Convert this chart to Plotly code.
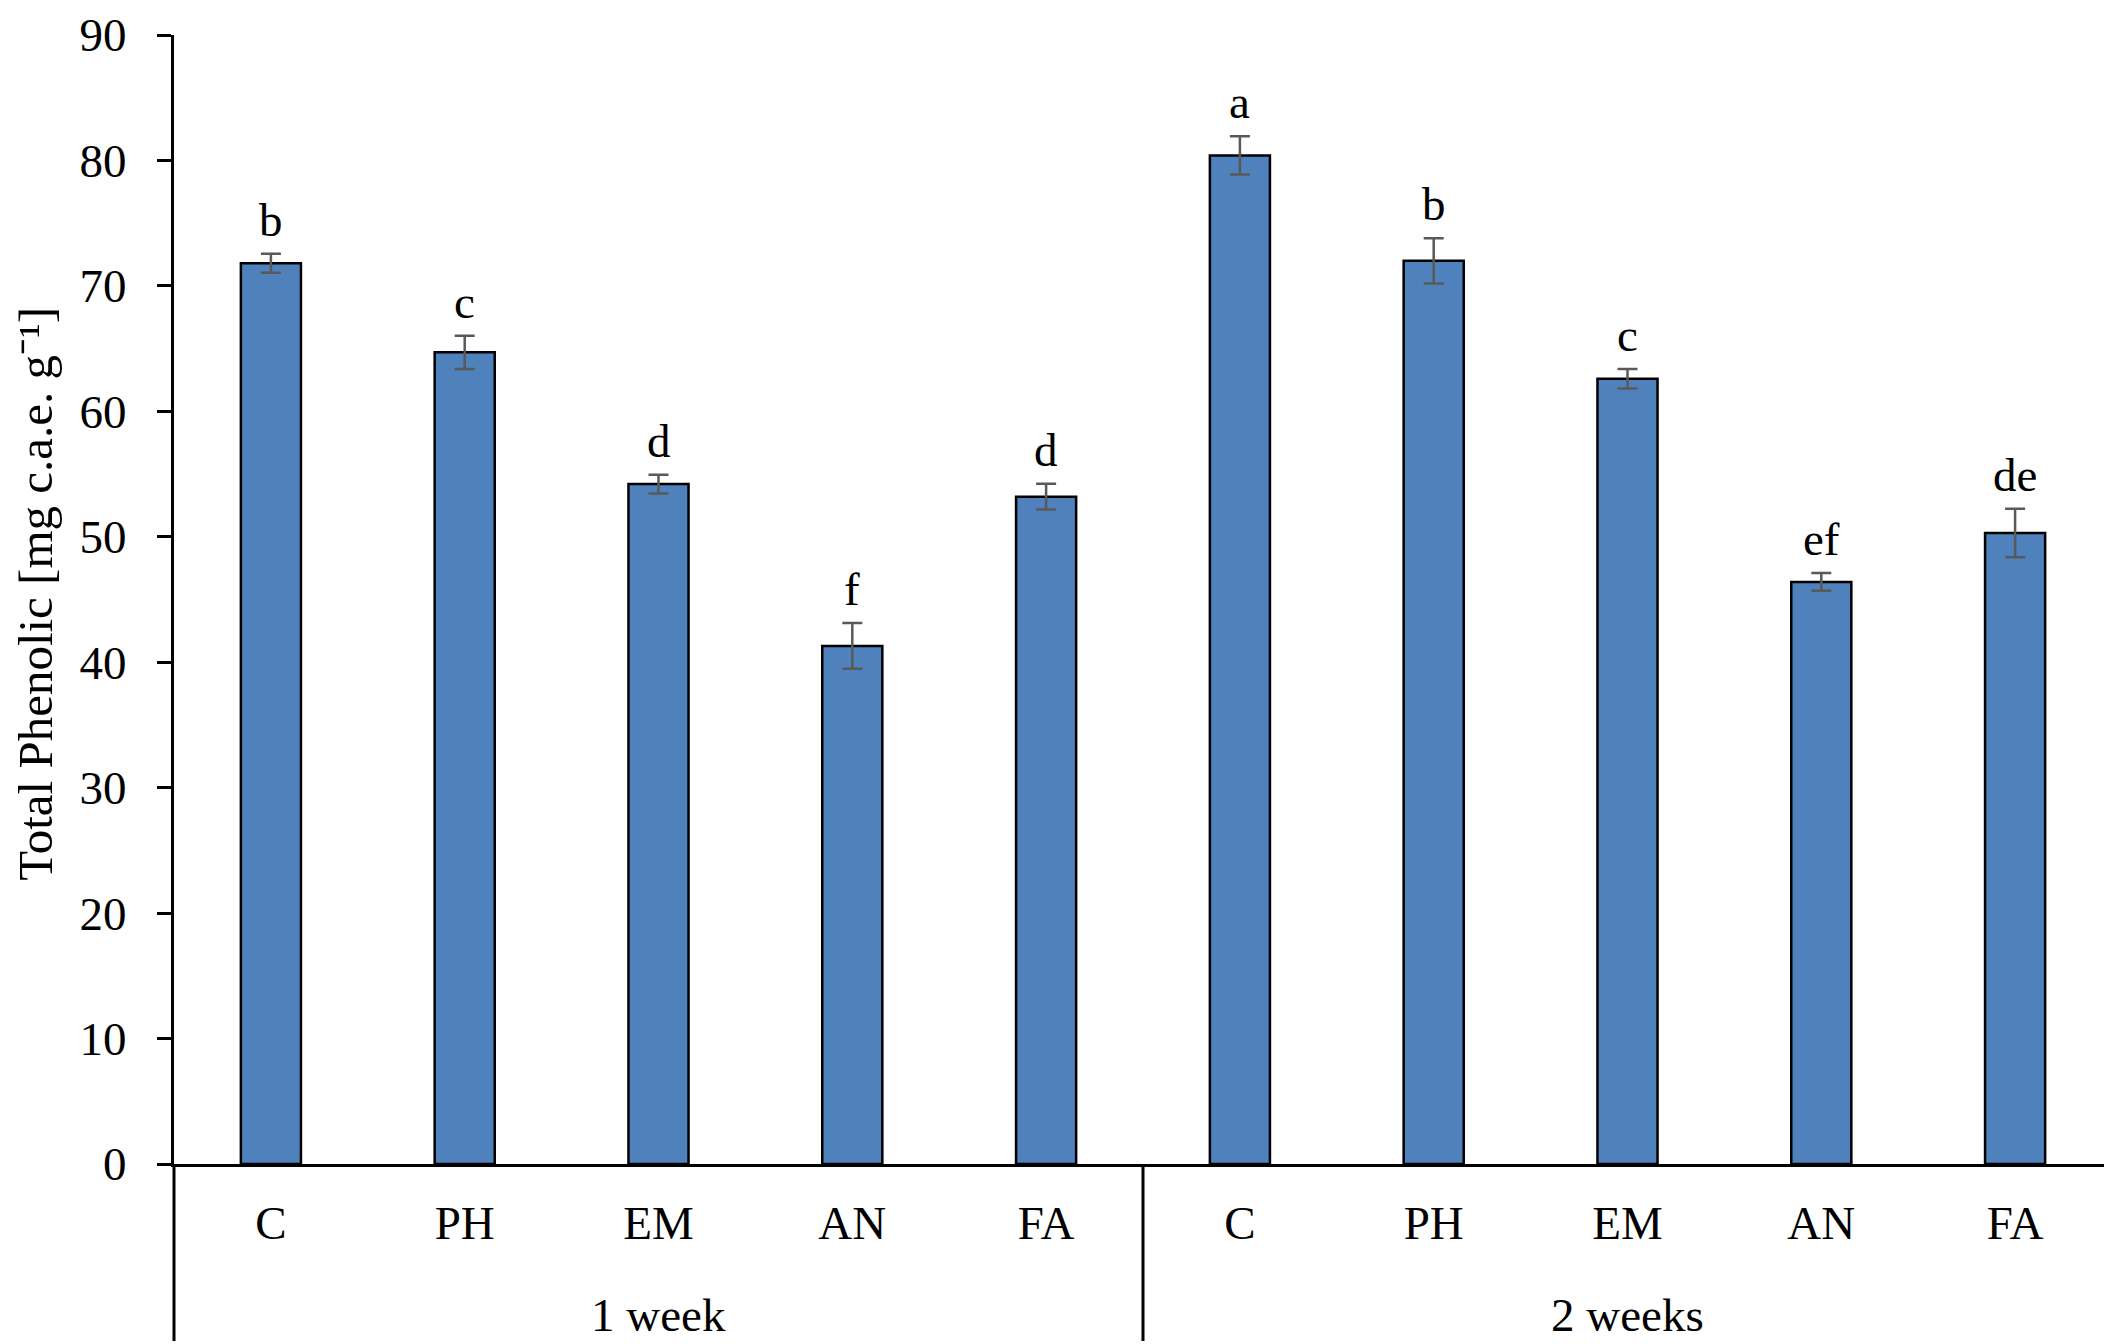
import plotly.graph_objects as go

# treatments and storage periods
treatments = ["C", "PH", "EM", "AN", "FA"]
weeks = ["1 week", "2 weeks"]

# total phenolic content, mg c.a.e. g-1
values_1wk = [71.8, 64.7, 54.2, 41.3, 53.2]
values_2wk = [80.4, 72.0, 62.6, 46.4, 50.3]

# standard deviations
sd_1wk = [0.76, 1.33, 0.75, 1.83, 1.02]
sd_2wk = [1.52, 1.80, 0.78, 0.71, 1.94]

# significance letters
letters_1wk = ["b", "c", "d", "f", "d"]
letters_2wk = ["a", "b", "c", "ef", "de"]

FONT = "Liberation Serif, Times New Roman, serif"
FS = 47
W, H = 2112, 1344
M_L, M_R, M_T, M_B = 166, 8, 27, 188
plot_w = W - M_L - M_R
plot_h = H - M_T - M_B

keys = [f"{w} {t}" for w in weeks for t in treatments]
values = values_1wk + values_2wk
sds = sd_1wk + sd_2wk
letters = letters_1wk + letters_2wk

fig = go.Figure()
fig.add_trace(go.Bar(
    x=keys,
    y=values,
    width=0.31,
    marker=dict(color="#4F81BD", line=dict(color="black", width=2.5)),
    error_y=dict(type="data", array=sds, visible=True,
                 color="#595959", thickness=2.5, width=10),
    showlegend=False,
))

# letters above the error bars
annotations = []
for k, v, s, lt in zip(keys, values, sds, letters):
    annotations.append(dict(
        x=k, y=v + s, xref="x", yref="y", text=lt, showarrow=False,
        yanchor="bottom", yshift=6,
        font=dict(family=FONT, size=FS, color="black"),
    ))

# group labels under the treatment labels
for i, w in enumerate(weeks):
    annotations.append(dict(
        x=(i + 0.5) / len(weeks), y=-151 / plot_h, xref="paper", yref="paper",
        text=w, showarrow=False, xanchor="center", yanchor="middle",
        font=dict(family=FONT, size=FS, color="black"),
    ))

# y axis title
annotations.append(dict(
    x=-138 / plot_w, y=0.505, xref="paper", yref="paper",
    text="Total Phenolic [mg c.a.e. g\u207b\u00b9]", textangle=-90,
    showarrow=False, xanchor="center", yanchor="middle",
    font=dict(family=FONT, size=49, color="black"),
))

# divider lines of the category axis
shapes = []
for xp in [0, 0.5]:
    shapes.append(dict(
        type="line", xref="paper", yref="paper",
        x0=xp, x1=xp, y0=0, y1=-177 / plot_h,
        line=dict(color="black", width=3),
    ))

fig.update_layout(
    width=W, height=H,
    margin=dict(l=M_L, r=M_R, t=M_T, b=M_B),
    paper_bgcolor="white",
    plot_bgcolor="white",
    font=dict(family=FONT, size=FS, color="black"),
    bargap=0.69,
    annotations=annotations,
    shapes=shapes,
    xaxis=dict(
        type="category",
        tickvals=keys,
        ticktext=treatments * len(weeks),
        showline=True, linecolor="black", linewidth=3,
        ticks="", showgrid=False, zeroline=False,
        tickfont=dict(family=FONT, size=FS, color="black"),
        ticklabelstandoff=16,
        automargin=False,
    ),
    yaxis=dict(
        range=[0, 90], dtick=10, tick0=0,
        showline=True, linecolor="black", linewidth=3,
        ticks="outside", ticklen=14, tickwidth=3, tickcolor="black",
        showgrid=False, zeroline=False,
        tickfont=dict(family=FONT, size=FS, color="black"),
        ticklabelstandoff=21,
        automargin=False,
    ),
)

fig.write_html("out.html")
